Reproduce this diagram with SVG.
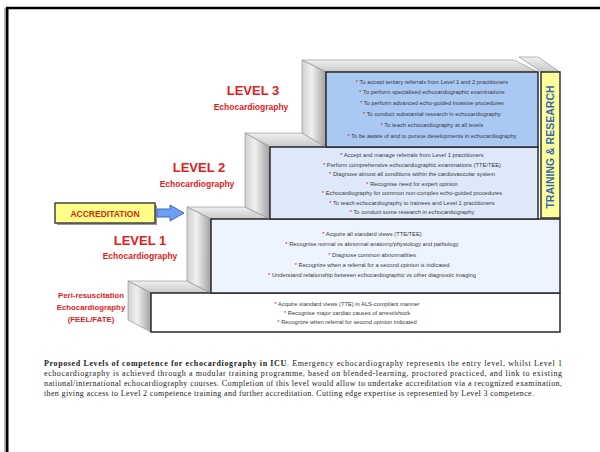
<svg xmlns="http://www.w3.org/2000/svg" width="600" height="452" viewBox="0 0 600 452">
<defs>
<linearGradient id="sideGrad" x1="0" y1="0" x2="1" y2="0">
<stop offset="0" stop-color="#d0d0d0"/>
<stop offset="0.4" stop-color="#f0f0f0"/>
<stop offset="1" stop-color="#a0a0a0"/>
</linearGradient>
<linearGradient id="topGrad" x1="0" y1="0" x2="0" y2="1">
<stop offset="0" stop-color="#f0f0f0"/>
<stop offset="1" stop-color="#c8c8c8"/>
</linearGradient>
<style>
.side{fill:url(#sideGrad);stroke:#8a8a8a;stroke-width:0.6}
.top{fill:url(#topGrad);stroke:#8a8a8a;stroke-width:0.6}
.front{stroke:#2a2a2a;stroke-width:1.5}
.b{font-family:"Liberation Sans",Arial,sans-serif;font-size:5.75px;fill:#3a3a3a;text-anchor:middle}
.s{fill:#e0101a}
.lvl{font-family:"Liberation Sans",Arial,sans-serif;font-weight:bold;fill:#e31b23;text-anchor:middle}
.cap{font-family:"Liberation Serif","Times New Roman",serif;font-size:8px;fill:#222}
</style>
</defs>
<rect width="600" height="452" fill="#fff"/>
<path d="M5,452 V8" stroke="#999" stroke-width="1.5" fill="none"/>
<path d="M7.2,452 V8 H600" stroke="#000" stroke-width="2.6" fill="none"/>

<g id="peri">
<polygon class="top" points="128,281 187,281 211,293 151,293"/>
<polygon class="side" points="128,281 151,293 151,332 128,320"/>
<rect class="front" x="151" y="293" width="409" height="39" fill="#ffffff"/>
<text class="b" x="347" y="306"><tspan class="s">*</tspan> Acquire standard views (TTE) in ALS-compliant manner</text>
<text class="b" x="347" y="314.8"><tspan class="s">*</tspan> Recognise major cardiac causes of arrest/shock</text>
<text class="b" x="347" y="323.6"><tspan class="s">*</tspan> Recognize when referral for second opinion indicated</text>
<text class="lvl" font-size="7.8" x="91" y="298">Peri-resuscitation</text>
<text class="lvl" font-size="7.8" x="91" y="310">Echocardiography</text>
<text class="lvl" font-size="7.8" x="91" y="322">(FEEL/FATE)</text>
</g>

<g id="level1">
<polygon class="top" points="187,207 245,207 270,219 211,219"/>
<polygon class="side" points="187,207 211,219 211,293 187,281"/>
<rect class="front" x="211" y="219" width="349" height="74" fill="#eef4fd"/>
<text class="b" x="372" y="236"><tspan class="s">*</tspan> Acquire all standard views (TTE/TEE)</text>
<text class="b" x="372" y="246.3"><tspan class="s">*</tspan> Recognise normal vs abnormal anatomy/physiology and pathology</text>
<text class="b" x="372" y="256.6"><tspan class="s">*</tspan> Diagnose common abnormalities</text>
<text class="b" x="372" y="267"><tspan class="s">*</tspan> Recognize when a referral for a second opinion is indicated</text>
<text class="b" x="372" y="277.3"><tspan class="s">*</tspan> Understand relationship between echocardiographic vs other diagnostic imaging</text>
<text class="lvl" font-size="13" x="140" y="245">LEVEL 1</text>
<text class="lvl" font-size="8.5" x="140" y="259">Echocardiography</text>
</g>

<g id="level2">
<polygon class="top" points="245,133 302,133 326,147 270,147"/>
<polygon class="side" points="245,133 270,147 270,219 245,207"/>
<rect class="front" x="270" y="147" width="268" height="72" fill="#dde9f9"/>
<text class="b" x="412" y="157"><tspan class="s">*</tspan> Accept and manage referrals from Level 1 practitioners</text>
<text class="b" x="412" y="166.5"><tspan class="s">*</tspan> Perform comprehensive echocardiographic examinations (TTE/TEE)</text>
<text class="b" x="412" y="176"><tspan class="s">*</tspan> Diagnose almost all conditions within the cardiovascular system</text>
<text class="b" x="412" y="185.5"><tspan class="s">*</tspan> Recognise need for expert opinion</text>
<text class="b" x="412" y="195"><tspan class="s">*</tspan> Echocardiography for common non-complex echo-guided procedures</text>
<text class="b" x="412" y="204.5"><tspan class="s">*</tspan> To teach echocardiography to trainees and Level 1 practitioners</text>
<text class="b" x="412" y="214"><tspan class="s">*</tspan> To conduct some research in echocardiography</text>
<text class="lvl" font-size="13" x="199" y="172">LEVEL 2</text>
<text class="lvl" font-size="8.5" x="197" y="187">Echocardiography</text>
</g>

<g id="level3">
<polygon class="top" points="302,60 514,60 538,72 326,72"/>
<polygon class="side" points="302,60 326,72 326,147 302,133"/>
<rect class="front" x="326" y="72" width="212" height="75" fill="#a9c8f2"/>
<text class="b" x="432" y="83.5"><tspan class="s">*</tspan> To accept tertiary referrals from Level 1 and 2 practitioners</text>
<text class="b" x="432" y="94.3"><tspan class="s">*</tspan> To perform specialised echocardiographic examinations</text>
<text class="b" x="432" y="105.1"><tspan class="s">*</tspan> To perform advanced echo-guided invasive procedures</text>
<text class="b" x="432" y="115.9"><tspan class="s">*</tspan> To conduct substantial research in echocardiography</text>
<text class="b" x="432" y="126.7"><tspan class="s">*</tspan> To teach echocardiography at all levels</text>
<text class="b" x="432" y="137.5"><tspan class="s">*</tspan> To be aware of and to pursue developments in echocardiography</text>
<text class="lvl" font-size="13" x="253" y="95">LEVEL 3</text>
<text class="lvl" font-size="8.5" x="251" y="110">Echocardiography</text>
</g>

<g id="training">
<polygon class="top" points="519,57 538,57 560,72 541,72"/>
<rect x="541" y="72" width="19" height="146" fill="#ffff99" stroke="#333" stroke-width="1.5"/>
<text transform="rotate(-90 550.5 147)" x="550.5" y="150.8" font-family="'Liberation Sans',Arial,sans-serif" font-weight="bold" font-size="10.5" fill="#3366bb" text-anchor="middle">TRAINING &amp; RESEARCH</text>
</g>

<g id="accreditation">
<rect x="57" y="205" width="100" height="20" fill="#9a9a9a"/>
<rect x="55" y="203" width="100" height="20" fill="#ffff88" stroke="#444" stroke-width="1.5"/>
<text x="105" y="216.5" font-family="'Liberation Sans',Arial,sans-serif" font-weight="bold" font-size="8.5" fill="#d42a10" text-anchor="middle">ACCREDITATION</text>
</g>

<g id="connectors">
<polygon points="157,209 170,209 170,205 184,213 170,221 170,217 157,217" fill="#6f9ff0" stroke="#3b6bc4" stroke-width="1"/>
</g>

<g id="caption">
<text class="cap" x="44" y="366" textLength="518" lengthAdjust="spacing"><tspan font-weight="bold">Proposed Levels of competence for echocardiography in ICU</tspan>. Emergency echocardiography represents the entry level, whilst Level 1</text>
<text class="cap" x="44" y="376" textLength="518" lengthAdjust="spacing">echocardiography is achieved through a modular training programme, based on blended-learning, proctored practiced, and link to existing</text>
<text class="cap" x="44" y="386" textLength="518" lengthAdjust="spacing">national/international echocardiography courses. Completion of this level would allow to undertake accreditation via a recognized examination,</text>
<text class="cap" x="44" y="395.7" textLength="490" lengthAdjust="spacing">then giving access to Level 2 competence training and further accreditation. Cutting edge expertise is represented by Level 3 competence.</text>
</g>
</svg>
